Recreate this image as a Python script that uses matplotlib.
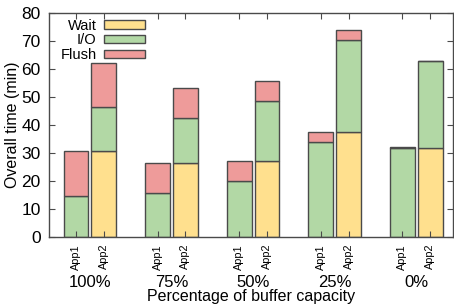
import matplotlib.pyplot as plt
import numpy as np
from matplotlib.patches import Patch
from matplotlib.transforms import blended_transform_factory

plt.rcParams['font.family'] = ['Liberation Sans', 'DejaVu Sans']

# Data (minutes)
groups = ['100%', '75%', '50%', '25%', '0%']
apps = ['App1', 'App2']
app1_wait = [0, 0, 0, 0, 0]
app1_io = [14.5, 15.6, 20.1, 33.8, 31.8]
app1_flush = [16.2, 10.7, 6.9, 3.6, 0.3]
app2_wait = [30.8, 26.3, 27.0, 37.4, 31.9]
app2_io = [15.5, 16.1, 21.6, 33.0, 30.8]
app2_flush = [15.7, 10.8, 7.1, 3.5, 0]

c_wait = '#FFE08E'
c_io = '#B2D8A5'
c_flush = '#EE9B9A'
edge = '#4a4a4a'

fig = plt.figure(figsize=(4.54, 3.06), dpi=100)
ax = fig.add_axes([0.108, 0.2255, 0.89, 0.732])

x = np.arange(len(groups))
off = 0.17
w = 0.305

for xs, wait, io, flush in [(x - off, app1_wait, app1_io, app1_flush),
                            (x + off, app2_wait, app2_io, app2_flush)]:
    wait = np.array(wait)
    io = np.array(io)
    flush = np.array(flush)
    ax.bar(xs, wait, w, color=c_wait, edgecolor=edge, linewidth=1)
    ax.bar(xs, io, w, bottom=wait, color=c_io, edgecolor=edge, linewidth=1)
    ax.bar(xs, flush, w, bottom=wait + io, color=c_flush, edgecolor=edge, linewidth=1)

ax.set_xlim(-0.5, 4.45)
ax.set_ylim(0, 80)
ax.set_yticks(range(0, 81, 10))

ticks = np.concatenate([x - off, x + off])
labels = [apps[0]] * len(x) + [apps[1]] * len(x)
ax.set_xticks(ticks)
ax.set_xticklabels(labels, rotation=90, fontsize=7.8)
ax.tick_params(axis='both', direction='in', length=4, width=0.8, color=edge,
               top=True, right=True)
ax.tick_params(axis='y', labelsize=12.5, pad=6)
ax.tick_params(axis='x', pad=5)
for s in ax.spines.values():
    s.set_color(edge)
    s.set_linewidth(1)

trans = blended_transform_factory(ax.transData, ax.transAxes)
for xi, g in zip(x, groups):
    ax.text(xi, -0.205, g, transform=trans, ha='center', va='center', fontsize=12)

ax.set_xlabel('Percentage of buffer capacity', fontsize=11.5)
ax.xaxis.set_label_coords(0.5, -0.232)
ax.xaxis.label.set_va('top')
ax.set_ylabel('Overall time (min)', fontsize=11.5)
ax.yaxis.set_label_coords(-0.072, 0.5)

handles = [Patch(facecolor=c_wait, edgecolor=edge),
           Patch(facecolor=c_io, edgecolor=edge),
           Patch(facecolor=c_flush, edgecolor=edge)]
ax.legend(handles, ['Wait', 'I/O', 'Flush'], loc='upper left',
          bbox_to_anchor=(0.028, 0.975), frameon=False, markerfirst=False,
          fontsize=10.5, handlelength=2.8, handleheight=0.5,
          handletextpad=0.5, labelspacing=0.05, borderaxespad=0, borderpad=0)

plt.savefig('out.png', dpi=100)
